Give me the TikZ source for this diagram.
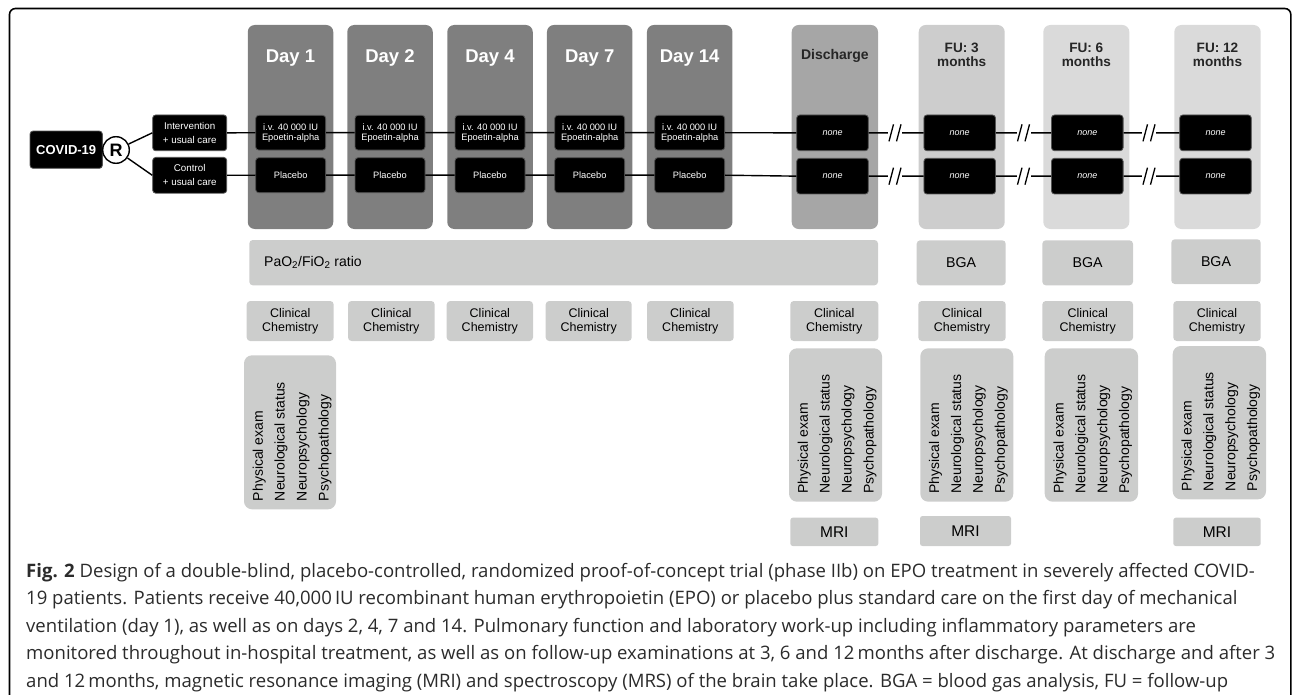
\documentclass[tikz,border=0pt]{standalone}
\usepackage{fontspec}
\setmainfont{Liberation Sans}
\newfontfamily\capfont{Open Sans}
\usetikzlibrary{calc}
\definecolor{dayc}{HTML}{7F7F7F}
\definecolor{disc}{HTML}{A6A6A6}
\definecolor{fuc}{HTML}{CDCDCD}
\definecolor{fuf}{HTML}{DADADA}
\definecolor{lbc}{HTML}{CCCDCC}
\definecolor{ttl}{HTML}{262626}
\definecolor{capc}{HTML}{2B2B2B}
\definecolor{bbord}{HTML}{555555}
\newlength\capw
\newcommand\capsel{\capfont\fontsize{\capsz pt}{\capsz pt}\selectfont}
\newcommand\fsz[1]{\fontsize{#1pt}{#1pt}\selectfont}
\tikzset{
  colbox/.style={rectangle, rounded corners=7pt, inner sep=0pt, minimum height=204pt},
  daytitle/.style={anchor=base, inner sep=0pt, text=white, font=\fsz{18.5}\bfseries},
  futitle/.style={anchor=base, inner sep=0pt, text=ttl, align=center, font=\fontsize{13.6pt}{14.2pt}\selectfont\bfseries},
  blk/.style={rectangle, fill=black, draw=bbord, line width=0.8pt, rounded corners=3pt, text=white, align=center, inner sep=0pt},
  ivbox/.style={blk, minimum width=70pt, minimum height=34.7pt, font=\fontsize{9.3pt}{10pt}\selectfont},
  nonebox/.style={blk, minimum width=71.6pt, minimum height=35.7pt, font=\fsz{9}\itshape},
  armbox/.style={blk, minimum width=74pt, minimum height=35.8pt, font=\fontsize{9.8pt}{14.3pt}\selectfont},
  conn/.style={line width=1.4pt, black},
  lbox/.style={rectangle, fill=lbc, rounded corners=3.5pt, inner sep=0pt, align=center, text=black},
  ccbox/.style={lbox, minimum height=40pt, font=\fontsize{12.5pt}{13.7pt}\selectfont},
  bgabox/.style={lbox, minimum height=45pt, font=\fsz{14.2}},
  pebox/.style={lbox, rounded corners=8pt},
  mribox/.style={lbox, rounded corners=2.5pt, font=\fsz{15.5}},
  rottext/.style={rotate=90, anchor=base west, inner sep=0pt, text=black, font=\fsz{14}},
  capnode/.style={anchor=base west, inner sep=0pt, text=capc, font=\capsel},
  frame/.style={line width=1.6pt, rounded corners=6pt},
  brk/.pic={
    \fill[white] (-7,-11) rectangle (7,11);
    \draw[line width=1.3pt] (-6,8.5) -- (-1.5,-8.5) (1.5,8.5) -- (6,-8.5);
  }
}
\newcommand\pe[3]{%
  \foreach \t [count=\k from 0] in {Physical exam, Neurological status, Neuropsychology, Psychopathology}
    \node[rottext] (#1-\k) at ({#2+18.8+21.9*\k},{#3-8}) {\t};%
}
\begin{document}
\settowidth\capw{\capfont\fontsize{10pt}{12pt}\selectfont monitored throughout in-hospital treatment, as well as on follow-up examinations at 3, 6 and 12\,months after discharge. At discharge and after 3}%
\pgfmathsetmacro\capsz{10*1249/\capw}%
\begin{tikzpicture}[x=1pt,y=-1pt]
\useasboundingbox (0,0) rectangle (1292,695);

% frame
\draw[frame] (9.5,720) -- (9.5,8.5) -- (1290.8,8.5) -- (1290.8,720);

% columns
\node[colbox, fill=dayc, minimum width=85.5pt] (d1) at (290.5,127) {};
\node[colbox, fill=dayc, minimum width=85.5pt] (d2) at (390,127) {};
\node[colbox, fill=dayc, minimum width=85.5pt] (d4) at (490,127) {};
\node[colbox, fill=dayc, minimum width=85.5pt] (d7) at (589.7,127) {};
\node[colbox, fill=dayc, minimum width=85.5pt] (d14) at (689.7,127) {};
\node[colbox, fill=disc, minimum width=86.3pt] (dis) at (834.85,127) {};
\node[colbox, fill=fuc, minimum width=86pt] (f3) at (961.7,127) {};
\node[colbox, fill=fuf, minimum width=86pt] (f6) at (1086.3,127) {};
\node[colbox, fill=fuf, minimum width=86.4pt] (f12) at (1217.5,127) {};

% titles
\node[daytitle] (t1) at (290.5,62.7) {Day 1};
\node[daytitle] (t2) at (390,62.7) {Day 2};
\node[daytitle] (t4) at (490,62.7) {Day 4};
\node[daytitle] (t7) at (589.7,62.7) {Day 7};
\node[daytitle] (t14) at (689.7,62.7) {Day 14};
\node[futitle, font=\fsz{14}\bfseries] (tdis) at (834.85,60) {Discharge};
\node[futitle] (tf3) at (961.7,66.7) {FU: 3\\months};
\node[futitle] (tf6) at (1086.3,66.7) {FU: 6\\months};
\node[futitle] (tf12) at (1217.5,66.7) {FU: 12\\months};

% left part
\node[blk, minimum width=72.3pt, minimum height=37.3pt, font=\fsz{13}\bfseries] (cov) at (66.2,149.7) {COVID-19};
\node[circle, draw=black, fill=white, line width=1.4pt, minimum size=26.6pt, inner sep=0pt, font=\fsz{18}\bfseries] (R) at (116,150) {R};
\node[armbox] (int) at (189.7,132.85) {Intervention\\+ usual care};
\node[armbox] (ctl) at (189.7,175.3) {Control\\+ usual care};

% treatment boxes
\foreach \n/\cx in {1/290.7, 2/390, 4/490, 7/589.7, 14/689.7} {
  \node[ivbox] (iv\n) at (\cx,132.7) {i.v. 40 000 IU\\Epoetin-alpha};
  \node[ivbox, minimum height=35pt] (pl\n) at (\cx,175.2) {Placebo};
}
\foreach \n/\cx in {0/832.5, 3/959.7, 6/1087.3, 12/1215.5} {
  \node[nonebox] (na\n) at (\cx,132.85) {none};
  \node[nonebox] (nb\n) at (\cx,176.15) {none};
}

% connectors
\draw[conn] (R) -- (int.west);
\draw[conn] (R) -- (ctl.west);
\draw[conn] (int.east) -- (iv1.west) (iv1.east) -- (iv2.west) (iv2.east) -- (iv4.west)
  (iv4.east) -- (iv7.west) (iv7.east) -- (iv14.west) (iv14.east) -- (na0.west)
  (na0.east) -- (na3.west) (na3.east) -- (na6.west) (na6.east) -- (na12.west);
\draw[conn] (ctl.east) -- (pl1.west) (pl1.east) -- (pl2.west) (pl2.east) -- (pl4.west)
  (pl4.east) -- (pl7.west) (pl7.east) -- (pl14.west) (pl14.east) -- (nb0.west)
  (nb0.east) -- (nb3.west) (nb3.east) -- (nb6.west) (nb6.east) -- (nb12.west);
\coordinate (ba1) at (895,132.85);
\coordinate (ba2) at (1023.5,132.85);
\coordinate (ba3) at (1149,132.85);
\coordinate (bb1) at (895,176.15);
\coordinate (bb2) at (1023.5,176.15);
\coordinate (bb3) at (1149,176.15);
\foreach \c in {ba1,ba2,ba3,bb1,bb2,bb3} \pic (p\c) at (\c) {brk};

% PaO2 / BGA
\node[lbox, minimum width=628.7pt, minimum height=45.3pt] (pao) at (563.65,262.65) {};
\node[anchor=base west, inner sep=0pt, font=\fsz{14}] (paot) at (264,266.7) {PaO\textsubscript{2}/FiO\textsubscript{2} ratio};
\node[bgabox, minimum width=89pt] (bga3) at (961.2,262.8) {BGA};
\node[bgabox, minimum width=90.7pt] (bga6) at (1087.65,262.8) {BGA};
\node[bgabox, minimum width=89.4pt, minimum height=44.7pt] (bga12) at (1216,261.65) {BGA};

% clinical chemistry
\foreach \n/\cx/\w in {c1/290.2/87, c2/391.35/86.7, c4/489.85/86.3, c7/588.7/86, c14/690.35/86.7, cdis/834.3/88, cf3/962/87.4, cf6/1087.65/90.7, cf12/1217/87.4}
  \node[ccbox, minimum width=\w pt] (\n) at (\cx,321) {Clinical\\Chemistry};

% physical exam boxes
\node[pebox, minimum width=92pt, minimum height=154pt] (pe1) at (290,432.3) {};
\node[pebox, minimum width=93pt, minimum height=153.4pt] (pedis) at (835.5,425) {};
\node[pebox, minimum width=93pt, minimum height=153.4pt] (pef3) at (966.8,425) {};
\node[pebox, minimum width=93.3pt, minimum height=153.4pt] (pef6) at (1091.35,425) {};
\node[pebox, minimum width=93.3pt, minimum height=153.3pt] (pef12) at (1219.35,422.65) {};
\pe{a}{244}{509.3}
\pe{b}{789}{501.7}
\pe{c}{920.3}{501.7}
\pe{d}{1044.7}{501.7}
\pe{e}{1172.7}{499.3}

% MRI
\node[mribox, minimum width=88pt, minimum height=28.3pt] (mdis) at (834.3,531.85) {MRI};
\node[mribox, minimum width=91pt, minimum height=30pt] (mf3) at (965.5,531) {MRI};
\node[mribox, minimum width=87.4pt, minimum height=28.3pt] (mf12) at (1217,531.85) {MRI};

% caption
\node[capnode] (cap1) at (26,577.3) {\textbf{Fig. 2} Design of a double-blind, placebo-controlled, randomized proof-of-concept trial (phase IIb) on EPO treatment in severely affected COVID-};
\node[capnode] (cap2) at (26,604.8) {19 patients. Patients receive 40,000\,IU recombinant human erythropoietin (EPO) or placebo plus standard care on the first day of mechanical};
\node[capnode] (cap3) at (26,632.3) {ventilation (day 1), as well as on days 2, 4, 7 and 14. Pulmonary function and laboratory work-up including inflammatory parameters are};
\node[capnode] (cap4) at (26,659.8) {monitored throughout in-hospital treatment, as well as on follow-up examinations at 3, 6 and 12\,months after discharge. At discharge and after 3};
\node[capnode] (cap5) at (26,687.3) {and 12\,months, magnetic resonance imaging (MRI) and spectroscopy (MRS) of the brain take place. BGA = blood gas analysis, FU = follow-up};
\end{tikzpicture}
\end{document}
